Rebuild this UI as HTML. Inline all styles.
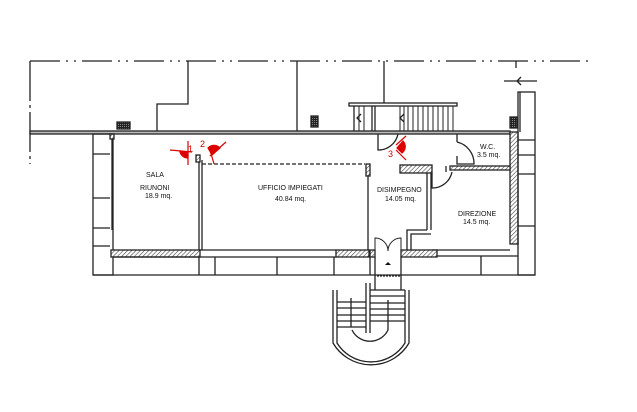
<!DOCTYPE html>
<html><head><meta charset="utf-8"><style>
html,body{margin:0;padding:0;background:#fff;}
svg{display:block;}
text{font-family:"Liberation Sans",sans-serif;font-size:7px;fill:#111;}
</style></head><body>
<svg width="637" height="412" viewBox="0 0 637 412" xmlns="http://www.w3.org/2000/svg">
<defs>
<pattern id="h" width="3" height="3" patternUnits="userSpaceOnUse" patternTransform="rotate(45)">
<rect width="3" height="3" fill="#fff"/><line x1="0" y1="0" x2="0" y2="3" stroke="#444" stroke-width="1.2"/></pattern>
<pattern id="d" width="2" height="2" patternUnits="userSpaceOnUse"><rect width="2" height="2" fill="#222"/><rect width="1" height="1" fill="#888"/></pattern>
</defs>
<g stroke="#222" stroke-width="1.3" fill="none">
<line x1="30" y1="61" x2="590" y2="61" stroke-dasharray="30,6,2,6,2,6"/>
<line x1="30" y1="61" x2="30" y2="164" stroke-dasharray="40,4,3,4"/>
<polyline points="188,61 188,104 157,104 157,131"/>
<line x1="297" y1="61" x2="297" y2="131"/>
<line x1="384" y1="61" x2="384" y2="103"/>
<line x1="516" y1="61" x2="516" y2="68"/>
<line x1="504" y1="81" x2="537" y2="81"/>
<polyline points="521,77 517,81 521,85"/>
<rect x="30" y="131" width="480" height="3" fill="#bbb"/>
<rect x="93" y="134" width="20" height="141"/>
<line x1="93" y1="154" x2="110" y2="154"/><line x1="93" y1="198" x2="110" y2="198"/>
<line x1="93" y1="228" x2="110" y2="228"/><line x1="93" y1="246" x2="110" y2="246"/>
<rect x="110" y="134" width="4" height="5" fill="url(#h)"/>
<line x1="112" y1="139" x2="112" y2="230"/>
<rect x="111" y="250" width="89" height="7" fill="url(#h)"/>
<line x1="199" y1="156" x2="199" y2="250"/><line x1="202" y1="160" x2="202" y2="250"/>
<rect x="196" y="155" width="4" height="7" fill="url(#h)"/>
<line x1="202" y1="164" x2="365" y2="164" stroke-dasharray="4,2"/>
<rect x="366" y="164" width="4" height="12" fill="url(#h)"/>
<line x1="368" y1="176" x2="368" y2="250"/>
<line x1="200" y1="250" x2="336" y2="250"/>
<rect x="336" y="250" width="33" height="7" fill="url(#h)"/>
<line x1="93" y1="275" x2="535" y2="275"/>
<line x1="113" y1="257" x2="336" y2="257"/>
<line x1="199" y1="257" x2="199" y2="275"/><line x1="215" y1="257" x2="215" y2="275"/>
<line x1="277" y1="257" x2="277" y2="275"/><line x1="334" y1="257" x2="334" y2="275"/>
<line x1="370" y1="250" x2="370" y2="275"/>
<rect x="349" y="103" width="108" height="3"/>
<line x1="354" y1="106" x2="354" y2="131"/><line x1="372" y1="106" x2="372" y2="131"/>
<line x1="375" y1="106" x2="375" y2="131"/>
<g stroke-width="1">
<line x1="400" y1="106" x2="400" y2="131"/><line x1="404" y1="106" x2="404" y2="131"/>
<line x1="408" y1="106" x2="408" y2="131"/><line x1="413" y1="106" x2="413" y2="131"/>
<line x1="418" y1="106" x2="418" y2="131"/><line x1="423" y1="106" x2="423" y2="131"/>
<line x1="428" y1="106" x2="428" y2="131"/><line x1="433" y1="106" x2="433" y2="131"/>
<line x1="438" y1="106" x2="438" y2="131"/><line x1="443" y1="106" x2="443" y2="131"/>
<line x1="448" y1="106" x2="448" y2="131"/><line x1="453" y1="106" x2="453" y2="131"/>
<line x1="359" y1="106" x2="359" y2="131"/><line x1="364" y1="106" x2="364" y2="131"/>
</g>
<polyline points="361,114 357,118 361,122"/><polyline points="404,114 400,118 404,122"/>
<path d="M378,134 L378,150 A20,20 0 0 0 398,134"/>
<rect x="510" y="132" width="8" height="112" fill="url(#h)"/>
<rect x="518" y="92" width="17" height="183"/>
<line x1="518" y1="140" x2="535" y2="140"/><line x1="518" y1="155" x2="535" y2="155"/>
<line x1="518" y1="174" x2="535" y2="174"/><line x1="518" y1="226" x2="535" y2="226"/>
<line x1="520" y1="92" x2="520" y2="132"/>
<rect x="510" y="117" width="7" height="11" fill="url(#d)"/>
<rect x="117" y="122" width="13" height="7" fill="url(#d)"/>
<rect x="311" y="116" width="7" height="11" fill="url(#d)"/>
<rect x="450" y="166" width="60" height="4" fill="url(#h)"/>
<line x1="457" y1="134" x2="457" y2="142"/>
<path d="M457,142 A22,22 0 0 1 474,164 L457,164 L457,156"/>
<rect x="400" y="165" width="32" height="8" fill="url(#h)"/>
<line x1="427" y1="173" x2="427" y2="230"/><line x1="431" y1="173" x2="431" y2="230"/>
<polyline points="427,230 407,230 407,252"/><polyline points="431,234 411,234 411,250"/>
<path d="M432,173 L432,188 A20,20 0 0 0 452,172"/>
<line x1="446" y1="166" x2="446" y2="172"/>
<line x1="432" y1="250" x2="510" y2="250"/><line x1="437" y1="256" x2="518" y2="256"/>
<line x1="481" y1="256" x2="481" y2="275"/>
<rect x="370" y="250" width="5" height="7" fill="url(#h)"/>
<rect x="401" y="250" width="36" height="7" fill="url(#h)"/>
<path d="M375,250 L375,238 A13,13 0 0 1 388,251 M401,250 L401,238 A13,13 0 0 0 388,251" stroke-width="1"/>
<line x1="375" y1="257" x2="375" y2="275"/><line x1="401" y1="257" x2="401" y2="275"/>
<line x1="377" y1="276" x2="401" y2="276" stroke-dasharray="2,1"/>
<path d="M333,290 L333,343 A44,44 0 0 0 409,343 L409,290"/>
<path d="M337,290 L337,343 A40,40 0 0 0 405,343 L405,290"/>
<path d="M352,330 A20,20 0 0 0 388,330 L388,300"/>
<line x1="366" y1="283" x2="366" y2="333"/><line x1="370" y1="283" x2="370" y2="333"/>
<line x1="337" y1="302" x2="366" y2="302"/><line x1="337" y1="308" x2="366" y2="308"/>
<line x1="337" y1="315" x2="366" y2="315"/><line x1="337" y1="321" x2="366" y2="321"/>
<line x1="337" y1="327" x2="366" y2="327"/>
<line x1="370" y1="290" x2="405" y2="290"/><line x1="370" y1="296" x2="405" y2="296"/>
<line x1="370" y1="303" x2="405" y2="303"/><line x1="370" y1="309" x2="405" y2="309"/>
<line x1="370" y1="315" x2="405" y2="315"/><line x1="370" y1="321" x2="405" y2="321"/>
<line x1="351" y1="298" x2="351" y2="327"/>
<line x1="375" y1="275" x2="375" y2="290"/><line x1="401" y1="275" x2="401" y2="290"/>
</g>
<g stroke="#d00" stroke-width="1.2" fill="#d00">
<line x1="170" y1="150" x2="192" y2="152"/><line x1="188" y1="141" x2="188" y2="165"/>
<path d="M188,152 L180,152 A8,8 0 0 0 188,158 Z"/>
<line x1="210" y1="156" x2="226" y2="142"/><line x1="210" y1="150" x2="214" y2="164"/>
<path d="M212,155 L220,148 A8,8 0 0 0 208,148 Z"/>
<line x1="396" y1="145" x2="406" y2="136"/><line x1="396" y1="150" x2="406" y2="160"/>
<path d="M397,148 L403,141 A8,8 0 0 1 402,153 Z"/>
</g>
<text x="188" y="152" style="fill:#c00;font-size:9px">1</text>
<text x="200" y="147" style="fill:#c00;font-size:9px">2</text>
<text x="388" y="157" style="fill:#c00;font-size:9px">3</text>
<text x="146" y="177">SALA</text>
<text x="140" y="190">RIUNONI</text>
<text x="145" y="198">18.9 mq.</text>
<text x="258" y="190">UFFICIO IMPIEGATI</text>
<text x="275" y="201">40.84 mq.</text>
<text x="377" y="192">DISIMPEGNO</text>
<text x="385" y="201">14.05 mq.</text>
<text x="458" y="216">DIREZIONE</text>
<text x="463" y="224">14.5 mq.</text>
<text x="480" y="149">W.C.</text>
<text x="477" y="157">3.5 mq.</text>
<path d="M385,265 l3,-3 l3,3 z" fill="#111"/>
</svg>
</body></html>
